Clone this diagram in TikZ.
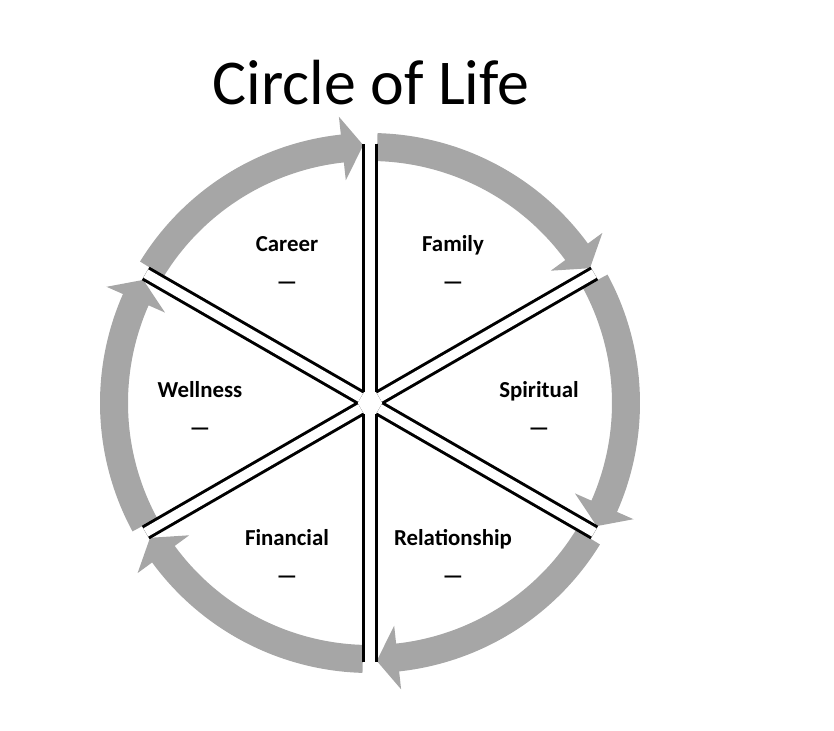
\documentclass[tikz,border=0pt]{standalone}
\usepackage{fontspec}
\setmainfont{Carlito}
\usepackage{tikz}
\usetikzlibrary{positioning}
\definecolor{ringgray}{RGB}{166,166,166}

\begin{document}
\begin{tikzpicture}[x=0.03cm,y=0.03cm,
  ringarrow/.style={fill=ringgray},
  divider/.style={draw=black,line width=0.9mm,double=white,double distance=2.85mm},
  area/.style={font=\bfseries\fontsize{19.5}{23}\selectfont,inner sep=0pt,anchor=base},
  emline/.style={font=\bfseries\fontsize{19.5}{23}\selectfont,inner sep=0pt,below=8.8mm of #1}]
\useasboundingbox (-370,-328) rectangle (464,403);
\node[font=\fontsize{54.5}{60}\selectfont,inner sep=0pt,anchor=base] (title) at (1,298) {Circle of Life};
\foreach \d in {150,90,30,-30,-90,-150}
  \fill[ringarrow] (\d-1.6:270) arc[start angle=\d-1.6,end angle=\d-53.8,radius=270]
    -- (\d-53.8:288) -- (\d-58.5:258) -- (\d-53.8:224) -- (\d-53.8:242)
    arc[start angle=\d-53.8,end angle=\d-1.6,radius=242] -- cycle;
\foreach \d in {150,90,30,-30,-90,-150}
  \draw[divider] (\d:10.8) -- (\d:259);
\node[area] (career) at (-83,151) {Career};
\node[area] (family) at (83,151) {Family};
\node[area] (wellness) at (-170,5) {Wellness};
\node[area] (spiritual) at (169,5) {Spiritual};
\node[area] (financial) at (-83,-143) {Financial};
\node[area] (relationship) at (83,-143) {Relationship};
\node[emline=career.base] (career-d) {—};
\node[emline=family.base] (family-d) {—};
\node[emline=wellness.base] (wellness-d) {—};
\node[emline=spiritual.base] (spiritual-d) {—};
\node[emline=financial.base] (financial-d) {—};
\node[emline=relationship.base] (relationship-d) {—};
\end{tikzpicture}
\end{document}
